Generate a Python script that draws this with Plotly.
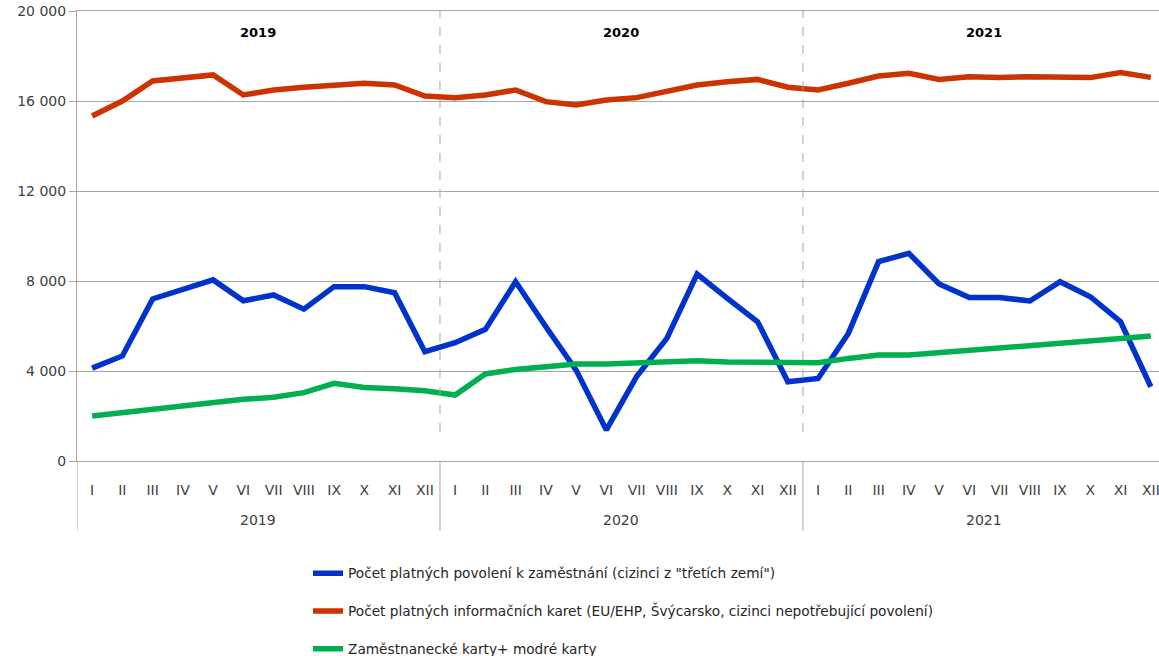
import plotly.graph_objects as go

mesice = ['I', 'II', 'III', 'IV', 'V', 'VI', 'VII', 'VIII', 'IX', 'X', 'XI', 'XII']
roky = ['2019', '2020', '2021']

povoleni = [4130, 4670, 7200, 7600, 8050, 7120, 7380, 6750, 7750, 7750, 7480, 4860,
            5260, 5850, 7970, 5970, 4040, 1380, 3750, 5450, 8310, 7230, 6190, 3520,
            3670, 5670, 8860, 9230, 7870, 7270, 7270, 7110, 7970, 7300, 6190, 3300]
info_karty = [15330, 16000, 16890, 17040, 17160, 16270, 16490, 16610, 16670, 16790, 16710, 16220,
              16150, 16270, 16490, 15970, 15820, 16040, 16150, 16410, 16710, 16860, 16960, 16610,
              16490, 16790, 17110, 17230, 16960, 17080, 17040, 17080, 17080, 17040, 17260, 17050]
zam_karty = [2000, 2150, 2310, 2410, 2590, 2740, 2830, 3040, 3450, 3270, 3210, 3120,
             2930, 3870, 4070, 4190, 4310, 4310, 4370, 4410, 4460, 4400, 4400, 4340,
             4370, 4560, 4710, 4710, 4810, 4930, 4990, 5110, 5230, 5330, 5440, 5560]

nazvy = ['Počet platných povolení k zaměstnání (cizinci z "třetích zemí")',
         'Počet platných informačních karet (EU/EHP, Švýcarsko, cizinci nepotřebující povolení)',
         'Zaměstnanecké karty+ modré karty']
barvy = ['#0033CC', '#CC3300', '#00B050']

x = list(range(len(roky) * 12))
popisky = mesice * len(roky)

fig = go.Figure()
for i, (serie, nazev, barva) in enumerate(zip([povoleni, info_karty, zam_karty], nazvy, barvy)):
    fig.add_trace(go.Scatter(x=x, y=serie, mode='lines', name=nazev, legendgroup=str(i),
                             line=dict(color=barva, width=5.5)))

# rozdeleni roku
for k in range(1, len(roky)):
    fig.add_shape(type='line', xref='x', yref='y', x0=12 * k - 0.5, x1=12 * k - 0.5,
                  y0=1290, y1=20000, line=dict(color='#A6A6A6', width=1, dash='dash'))
for k in range(len(roky)):
    fig.add_shape(type='line', xref='x', yref='paper', x0=12 * k - 0.5, x1=12 * k - 0.5,
                  y0=0, y1=-0.155, line=dict(color='#A6A6A6', width=1))
    fig.add_annotation(x=12 * k + 5.5, y=-0.131, xref='x', yref='paper', text=roky[k],
                       showarrow=False, yanchor='middle', font=dict(size=14, color='#404040'))
    fig.add_annotation(x=12 * k + 5.5, y=0.953, xref='x', yref='paper', text='<b>' + roky[k] + '</b>',
                       showarrow=False, yanchor='middle', font=dict(size=13, color='#000000'))

fig.update_layout(
    width=1159, height=656,
    margin=dict(l=77, r=0, t=11, b=195, autoexpand=False),
    plot_bgcolor='white', paper_bgcolor='white',
    separators=', ',
    font=dict(family='DejaVu Sans', size=14, color='#404040'),
    showlegend=True,
    legend=dict(orientation='v', x=0.2135, y=-0.215, xanchor='left', yanchor='top',
                tracegroupgap=17, font=dict(size=13.7, color='#262626'), bgcolor='rgba(0,0,0,0)'),
)
fig.update_xaxes(range=[-0.5, 35.27], tickmode='array', tickvals=x, ticktext=popisky,
                 showgrid=False, zeroline=False, showline=True, mirror=True, linecolor='#A6A6A6',
                 ticks='', ticklabelstandoff=16, ticklabeloverflow='allow', automargin=False)
fig.update_yaxes(range=[0, 20000], tickvals=[0, 4000, 8000, 12000, 16000, 20000], tickformat=',d',
                 showgrid=True, gridcolor='#A6A6A6', gridwidth=1, zeroline=False, automargin=False,
                 showline=True, linecolor='#A6A6A6', ticks='outside', ticklen=7, tickcolor='#A6A6A6',
                 ticklabeloverflow='allow')

# bez vychoziho okraje stranky (8 px)
fig.write_html('out.html', config={'displayModeBar': False},
               post_script="document.body.style.margin='0';")
